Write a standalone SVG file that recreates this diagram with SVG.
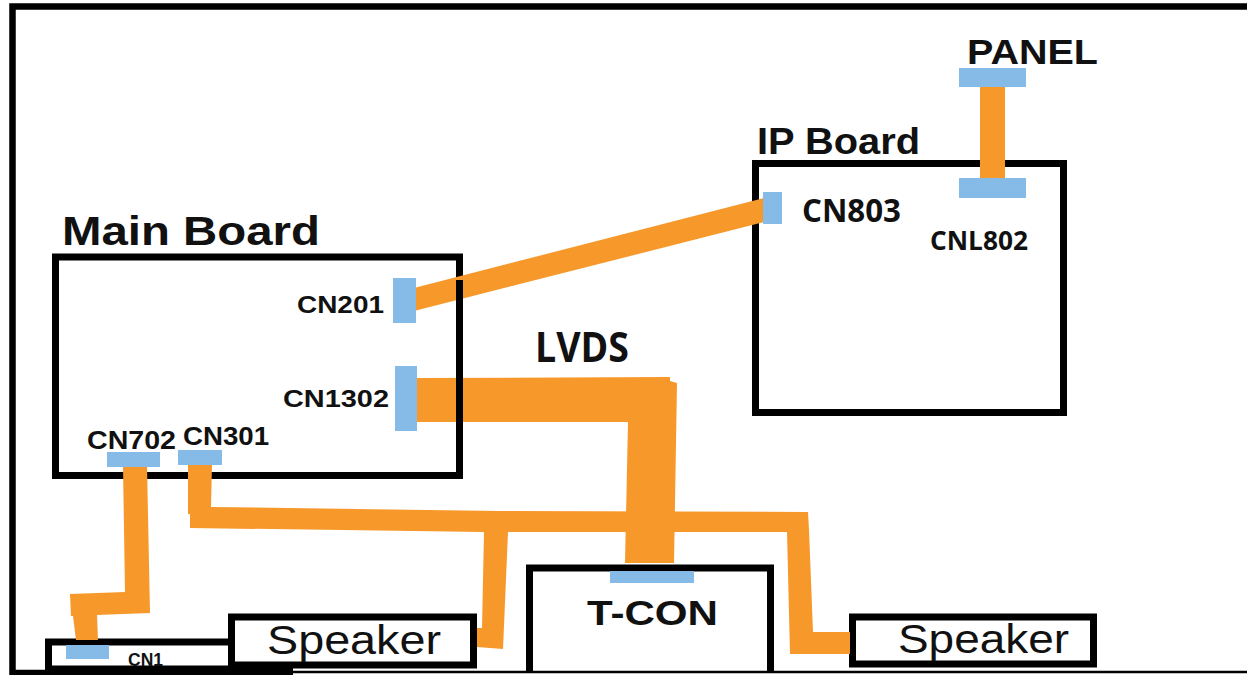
<svg xmlns="http://www.w3.org/2000/svg" width="1247" height="675" viewBox="0 0 1247 675">
<style>
.box{fill:#fff;stroke:#000;stroke-width:7}
.cn{fill:#85bbe6}
.w{fill:#f7982a}
.a{font-family:"Liberation Sans",Arial,sans-serif;fill:#111}
.b{font-weight:700}
.c{font-family:"Open Sans","Noto Sans",sans-serif;font-weight:700;fill:#111}
</style>
<rect width="1247" height="675" fill="#fff"/>
<g id="main-board"><rect class="box" x="55.500" y="257" width="404" height="218.500"/><text class="a b" x="62" y="245" font-size="40" textLength="258" lengthAdjust="spacingAndGlyphs">Main Board</text></g>
<g id="ip-board"><rect class="box" x="755.500" y="163.500" width="308" height="249"/><text class="a b" x="757" y="154" font-size="36" textLength="163" lengthAdjust="spacingAndGlyphs">IP Board</text></g>
<g id="t-con"><path class="box" d="M529.500 672V568H770.500V672"/><text class="a b" x="587" y="625" font-size="35" textLength="131" lengthAdjust="spacingAndGlyphs">T-CON</text></g>
<g id="cn1-board"><rect class="box" x="48.500" y="642" width="190" height="27"/><text class="a b" x="128" y="666" font-size="18" textLength="35" lengthAdjust="spacingAndGlyphs">CN1</text></g>
<g id="speaker-left"><rect class="box" x="231.500" y="617" width="242" height="48"/><text class="a" x="267" y="654" font-size="41" textLength="174" lengthAdjust="spacingAndGlyphs">Speaker</text></g>
<g id="speaker-right"><rect class="box" x="852.500" y="617" width="241" height="47"/><text class="a" x="898" y="653" font-size="41" textLength="171" lengthAdjust="spacingAndGlyphs">Speaker</text></g>
<g id="connectors">
<polygon class="w" points="980,86 1005,86 1005,180 980,180"/>
<polygon class="w" points="414,288 764,198 764,222 414,311"/>
<polygon class="w" points="415,378 670,377 670,381 677,383 674,563 625,563 628,422 415,422"/>
<polygon class="w" points="123,465 147,465 150,613 97,615 98,640 76,640 73,616 71,616 70,594 125,592"/>
<polygon class="w" points="188,465 212,465 211,507 500,511 808,512 809,530 813,632 850,632 850,654 790,654 787,532 508,532 503,649 477,647 477,628 482,628 484,532 190,528 190,514 188,514"/>
<path d="M459.500 280V430" stroke="#000" stroke-width="7" fill="none"/>
</g>
<g id="connector-pads">
<rect class="cn" x="959" y="68" width="67" height="19"/>
<rect class="cn" x="959" y="178" width="67" height="20"/>
<rect class="cn" x="763" y="192" width="19" height="32"/>
<rect class="cn" x="393" y="278" width="23" height="45"/>
<rect class="cn" x="395" y="366" width="22" height="65"/>
<rect class="cn" x="107" y="452" width="53" height="15"/>
<rect class="cn" x="178" y="450" width="44" height="15"/>
<rect class="cn" x="66" y="645" width="43" height="14"/>
<rect class="cn" x="610" y="571" width="84" height="12"/>
</g>
<g id="labels">
<text class="a b" x="967" y="64" font-size="35" textLength="131" lengthAdjust="spacingAndGlyphs">PANEL</text>
<text class="c" x="802" y="222" font-size="32" textLength="99" lengthAdjust="spacingAndGlyphs">CN803</text>
<text class="c" x="930" y="250" font-size="27" textLength="98" lengthAdjust="spacingAndGlyphs">CNL802</text>
<text class="a b" x="297" y="313" font-size="24" textLength="87" lengthAdjust="spacingAndGlyphs">CN201</text>
<text class="a b" x="283" y="407" font-size="24" textLength="106" lengthAdjust="spacingAndGlyphs">CN1302</text>
<text class="a b" x="87" y="449" font-size="25" textLength="89" lengthAdjust="spacingAndGlyphs">CN702</text>
<text class="a b" x="183" y="445" font-size="25" textLength="86" lengthAdjust="spacingAndGlyphs">CN301</text>
<text class="c" x="535" y="362" font-size="41" textLength="94" lengthAdjust="spacingAndGlyphs">LVDS</text>
</g>
<g id="frame">
<path d="M1247 6.500H12.500V673H293" fill="none" stroke="#000" stroke-width="6.500"/>
<path d="M293 672H1247" fill="none" stroke="#000" stroke-width="2.500"/>
<rect x="228" y="664" width="65" height="8" fill="#000"/>
</g>
</svg>
